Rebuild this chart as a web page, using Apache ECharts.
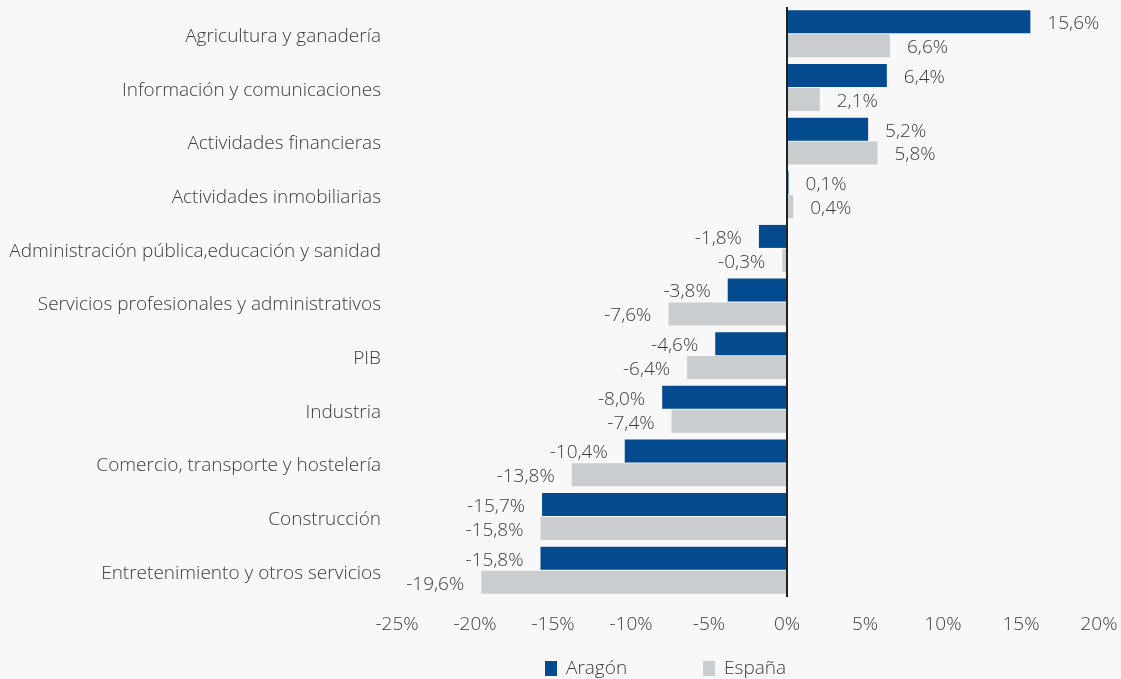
<!DOCTYPE html>
<html>
<head>
<meta charset="utf-8">
<script src="https://cdn.jsdelivr.net/npm/echarts@6/dist/echarts.min.js"></script>
<style>
  html, body { margin: 0; padding: 0; background: #f8f8f8; }
  #chart { width: 1121px; height: 679px; }
</style>
</head>
<body>
<div id="chart"></div>
<script>
// Sector categories, top to bottom
const categories = [
  'Agricultura y ganadería',
  'Información y comunicaciones',
  'Actividades financieras',
  'Actividades inmobiliarias',
  'Administración pública,educación y sanidad',
  'Servicios profesionales y administrativos',
  'PIB',
  'Industria',
  'Comercio, transporte y hostelería',
  'Construcción',
  'Entretenimiento y otros servicios'
];

// Year-on-year change (%)
const aragon = [15.6, 6.4, 5.2, 0.1, -1.8, -3.8, -4.6, -8.0, -10.4, -15.7, -15.8];
const espana = [6.6, 2.1, 5.8, 0.4, -0.3, -7.6, -6.4, -7.4, -13.8, -15.8, -19.6];

const seriesNames = ['Aragón', 'España'];

const FONT = '"Open Sans"';
const TEXT = '#3c3c3c';
const SIZE = 19;

function fmt(v) {
  return v.toFixed(1).replace('.', ',') + '%';
}

function barData(values) {
  return values.map(v => ({
    value: v,
    label: { position: v >= 0 ? 'right' : 'left' }
  }));
}

const labelStyle = {
  show: true,
  distance: 17,
  offset: [0, 2],
  fontFamily: FONT,
  fontWeight: 300,
  fontSize: SIZE,
  color: TEXT,
  formatter: p => fmt(p.value)
};

const chart = echarts.init(document.getElementById('chart'), null, { renderer: 'canvas' });

chart.setOption({
  backgroundColor: '#f8f8f8',
  animation: false,
  grid: { left: 397, right: 22, top: 7, bottom: 82, containLabel: false },
  legend: {
    data: seriesNames,
    top: 654,
    left: 540,
    itemWidth: 12,
    itemHeight: 15,
    itemGap: 76,
    icon: 'rect',
    textStyle: { fontFamily: FONT, fontWeight: 300, fontSize: SIZE, color: TEXT, padding: [0, 0, 0, 4] }
  },
  xAxis: {
    type: 'value',
    min: -25,
    max: 20,
    interval: 5,
    axisLine: { show: false },
    axisTick: { show: false },
    splitLine: { show: false },
    axisLabel: {
      margin: 18,
      fontFamily: FONT,
      fontWeight: 300,
      fontSize: SIZE,
      color: TEXT,
      formatter: v => v + '%'
    }
  },
  yAxis: {
    type: 'category',
    data: categories,
    inverse: true,
    axisLine: { show: false },
    axisTick: { show: false },
    splitLine: { show: false },
    axisLabel: {
      margin: 16,
      formatter: v => '{t|' + v + '}',
      rich: {
        t: {
          padding: [6, 0, 0, 0],
          fontFamily: FONT,
          fontWeight: 300,
          fontSize: SIZE,
          color: TEXT
        }
      }
    }
  },
  series: [
    {
      name: seriesNames[0],
      type: 'bar',
      data: barData(aragon),
      barWidth: 23,
      barGap: '4%',
      itemStyle: { color: '#044a8e' },
      label: labelStyle,
      markLine: {
        silent: true,
        symbol: 'none',
        label: { show: false },
        lineStyle: { color: '#222222', width: 2, type: 'solid' },
        data: [{ xAxis: 0 }]
      },
      z: 2
    },
    {
      name: seriesNames[1],
      type: 'bar',
      data: barData(espana),
      barWidth: 23,
      itemStyle: { color: '#c9cdd0' },
      label: labelStyle,
      z: 2
    }
  ]
});
</script>
</body>
</html>
